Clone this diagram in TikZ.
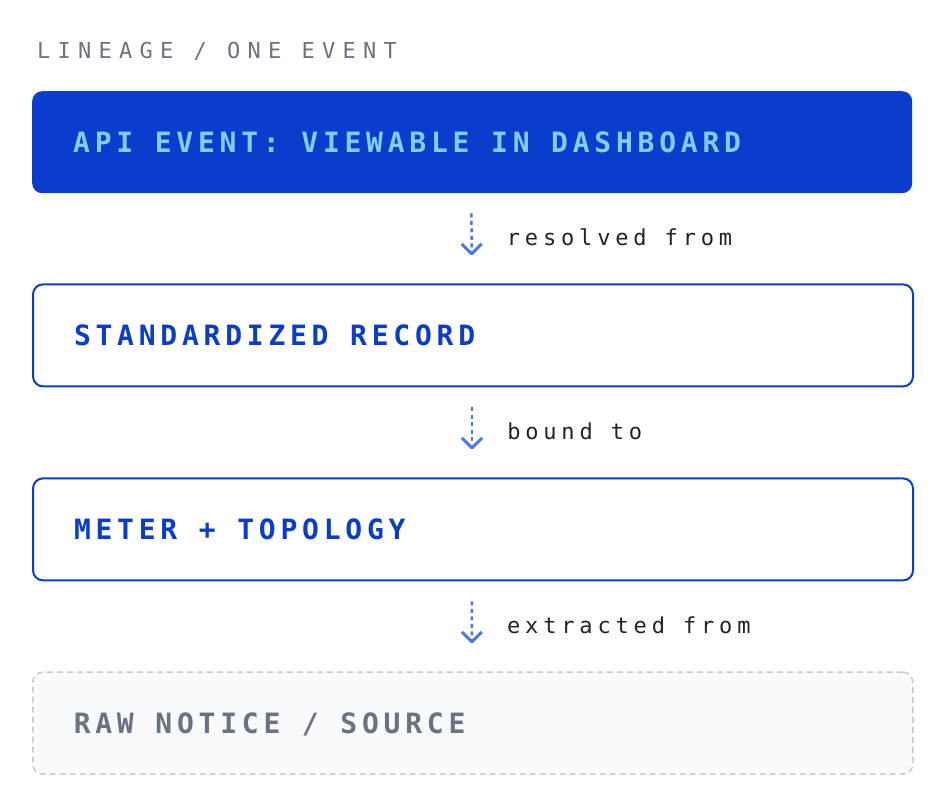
\documentclass[tikz,border=0pt]{standalone}
\usepackage{fontspec}
\usepackage{tikz}
\usetikzlibrary{arrows.meta,positioning}
\newfontfamily\titlefont{DejaVu Sans Mono}[LetterSpace=33]
\newfontfamily\boxfont{DejaVu Sans Mono}[LetterSpace=17]
\newfontfamily\linkfont{DejaVu Sans Mono}[LetterSpace=22]
\newcommand\titletype{\titlefont\fontsize{22}{26}\selectfont\fontdimen2\font=20.2pt\relax}
\newcommand\boxtype{\boxfont\bfseries\fontsize{28}{34}\selectfont\fontdimen2\font=21.6pt\relax}
\newcommand\linktype{\linkfont\fontsize{22}{26}\selectfont\fontdimen2\font=18pt\relax}
\definecolor{eventblue}{HTML}{0B3DCC}
\definecolor{eventsky}{HTML}{82CDFF}
\definecolor{linkblue}{HTML}{4A78E4}
\definecolor{rawgray}{HTML}{6B7280}
\definecolor{rawline}{HTML}{C5C9CF}
\definecolor{rawfill}{HTML}{F8FAFC}
\definecolor{inkdark}{HTML}{1F2230}

\begin{document}
\begin{tikzpicture}[
  x=1pt, y=-1pt,
  stage/.style={rectangle, rounded corners=10pt, anchor=north west,
                minimum width=878pt, minimum height=102pt,
                text width=798pt, inner xsep=41pt,
                text height=21pt, text depth=0pt, font=\boxtype,
                execute at begin node={\spaceskip=21.6pt\relax\xspaceskip=21.6pt\relax}},
  link/.style={draw=linkblue, line width=2.5pt, dash pattern=on 4pt off 3.5pt,
               -{Straight Barb[length=10pt, width=20pt, line width=3pt, line join=round]},
               shorten <=20pt, shorten >=28pt},
  linklabel/.style={midway, anchor=west, xshift=34pt, yshift=1pt, text=inkdark,
                    inner sep=0pt, font=\linktype},
  node distance=90pt
]
  \useasboundingbox (0,0) rectangle (944,806);

  \node[anchor=base west, inner sep=0pt, text=rawgray, font=\titletype]
    (title) at (37,58) {LINEAGE / ONE EVENT};

  \node[stage, fill=eventblue, text=eventsky] (api) at (32,91)
    {API EVENT: VIEWABLE IN DASHBOARD};
  \node[stage, draw=eventblue, line width=2pt, fill=white, text=eventblue,
        minimum width=876pt, below=of api.south west, anchor=north west] (record)
    {STANDARDIZED RECORD};
  \node[stage, draw=eventblue, line width=2pt, fill=white, text=eventblue,
        minimum width=876pt, below=of record.south west, anchor=north west] (meter)
    {METER + TOPOLOGY};
  \node[stage, draw=rawline, line width=1.5pt, dash pattern=on 6pt off 4pt,
        fill=rawfill, text=rawgray, minimum width=876pt,
        below=of meter.south west, anchor=north west] (raw)
    {RAW NOTICE / SOURCE};

  %% lineage links, read upwards
  \draw[link] ([xshift=-1pt]api.south) -- ([xshift=-1pt]record.north)
    node[linklabel] {resolved from};
  \draw[link] ([xshift=-1pt]record.south) -- ([xshift=-1pt]meter.north)
    node[linklabel] {bound to};
  \draw[link] ([xshift=-1pt]meter.south) -- ([xshift=-1pt]raw.north)
    node[linklabel] {extracted from};
\end{tikzpicture}
\end{document}
